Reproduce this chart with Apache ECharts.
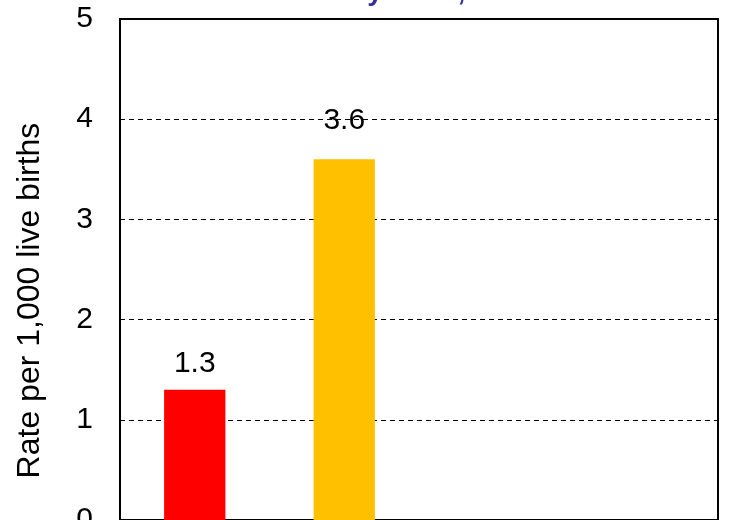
<!DOCTYPE html>
<html>
<head>
<meta charset="utf-8">
<script src="https://cdn.jsdelivr.net/npm/echarts@6/dist/echarts.min.js"></script>
<style>
html,body{margin:0;padding:0;background:#fff;}
#main{width:732px;height:520px;}
</style>
</head>
<body>
<div id="main"></div>
<script>
// data
var categories = ["A", "B", "C", "D"];
var rates = [1.3, 3.6, null, null];
var barColors = ["#FF0000", "#FFC000", "#FFC000", "#FFC000"];
var labelGaps = [11, 24, 10, 10];
var yTicks = [0, 1, 2, 3, 4, 5];
var titleText = "Deaths by Race, 2019";

var myChart = echarts.init(document.getElementById("main"));
var font = "Arial, 'Liberation Sans', sans-serif";

var option = {
	animation: false,
	backgroundColor: "#fff",
	// title is cut off at the top, only descenders show
	graphic: [{
		type: "text",
		left: 249,
		top: -22,
		style: {
			text: titleText,
			font: "bold 28px " + font,
			fill: "#333399"
		}
	}],
	grid: {
		left: 120,
		top: 19,
		width: 598,
		height: 501,
		outerBoundsMode: "none",
		containLabel: false,
		show: true,
		borderColor: "#000",
		borderWidth: 2
	},
	xAxis: {
		type: "category",
		data: categories,
		axisLine: {show: false},
		axisTick: {show: false},
		axisLabel: {show: false}
	},
	yAxis: {
		type: "value",
		min: yTicks[0],
		max: yTicks[yTicks.length - 1],
		interval: 1,
		name: "Rate per 1,000 live births",
		nameLocation: "middle",
		nameGap: 74,
		nameRotate: 90,
		nameTextStyle: {fontSize: 32, color: "#000", fontFamily: font, padding: [0, 62, 0, 0]},
		axisLine: {show: false},
		axisTick: {show: false},
		axisLabel: {fontSize: 30, color: "#000", fontFamily: font, margin: 27},
		splitLine: {
			lineStyle: {color: "#000", type: [5, 4], width: 1}
		}
	},
	series: [{
		type: "bar",
		data: rates.map(function(v, i){
			return {value: v, itemStyle: {color: barColors[i]}, label: {distance: labelGaps[i]}};
		}),
		barWidth: "41%",
		label: {
			show: true,
			position: "top",
			fontSize: 30,
			color: "#000",
			fontFamily: font
		}
	}]
};
myChart.setOption(option);
</script>
</body>
</html>
